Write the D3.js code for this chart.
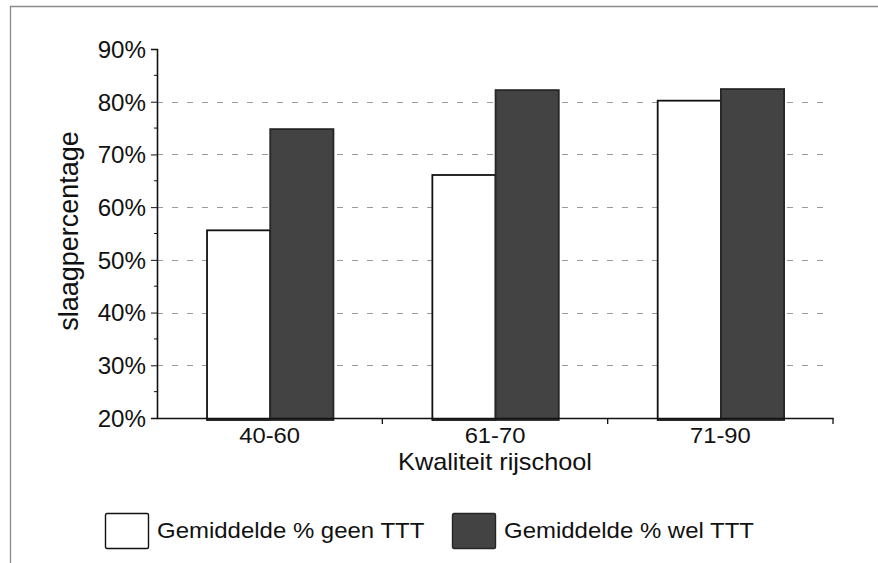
<!DOCTYPE html>
<html>
<head>
<meta charset="utf-8">
<script src="https://cdn.jsdelivr.net/npm/d3@7"></script>
<style>
  html, body { margin: 0; padding: 0; background: #fff; }
  svg { display: block; }
  text { font-family: "Liberation Sans", Arial, sans-serif; fill: #111; }
</style>
</head>
<body>
<svg id="chart" width="878" height="563"></svg>
<script>
// Slaagpercentage per kwaliteitsklasse van de rijschool
const categories = ["40-60", "61-70", "71-90"];
const seriesNames = ["Gemiddelde % geen TTT", "Gemiddelde % wel TTT"];
const geenTTT = [55.6, 66.1, 80.2];
const welTTT = [74.8, 82.2, 82.4];
const yTicks = [20, 30, 40, 50, 60, 70, 80, 90];
const yMinorTicks = [25, 35, 45, 55, 65, 75, 85];
const gridValues = [30, 40, 50, 60, 70, 80];
const yTitle = "slaagpercentage";
const xTitle = "Kwaliteit rijschool";

const seriesValues = [geenTTT, welTTT];
const seriesFill = ["#ffffff", "#434343"];
const seriesStroke = ["#111", "#262626"];

const svg = d3.select("#chart");

// outer frame (top and left edges visible)
svg.append("path")
  .attr("d", "M10.5,563 L10.5,6.5 L878,6.5")
  .attr("fill", "none")
  .attr("stroke", "#8a8a8a")
  .attr("stroke-width", 1.3);

const plot = { left: 157, right: 833, top: 49, bottom: 418 };

const y = d3.scaleLinear().domain([20, 90]).range([plot.bottom, plot.top]);
const x0 = d3.scaleBand().domain(categories).range([plot.left, plot.right]).padding(0);
const bw = x0.bandwidth();
const x1 = d3.scaleBand().domain(seriesNames).range([bw * 0.222, bw * 0.783]).padding(0);

// dashed gridlines
svg.append("g").selectAll("line").data(gridValues).join("line")
  .attr("x1", plot.left).attr("x2", plot.right - 5)
  .attr("y1", d => Math.round(y(d)) + 0.5).attr("y2", d => Math.round(y(d)) + 0.5)
  .attr("stroke", "#9a9a9a").attr("stroke-width", 1)
  .attr("stroke-dasharray", "6,9");

// bars
const groups = svg.append("g").selectAll("g").data(categories).join("g")
  .attr("transform", d => `translate(${x0(d)},0)`);

groups.selectAll("rect")
  .data((c, i) => seriesNames.map((s, k) => ({ s, k, v: seriesValues[k][i] })))
  .join("rect")
  .attr("x", d => x1(d.s))
  .attr("y", d => y(d.v))
  .attr("width", x1.bandwidth())
  .attr("height", d => plot.bottom + 2 - y(d.v))
  .attr("fill", d => seriesFill[d.k])
  .attr("stroke", d => seriesStroke[d.k])
  .attr("stroke-width", 1.8);

// y axis
const yAxis = d3.axisLeft(y).tickValues(yTicks).tickFormat(d => d + "%").tickSize(6).tickPadding(5);
const gy = svg.append("g").attr("transform", `translate(${plot.left},0)`).call(yAxis);
gy.select(".domain").attr("stroke", "#111").attr("stroke-width", 1.6);
gy.selectAll(".tick line").attr("stroke", "#111").attr("stroke-width", 1);
gy.selectAll(".tick text")
  .attr("font-size", 23)
  .attr("fill", "#111")
  .attr("dy", "0.36em")
  .attr("transform", "scale(1.05,1)")
  .attr("x", -11 / 1.05);

// minor ticks
svg.append("g").selectAll("line").data(yMinorTicks).join("line")
  .attr("x1", plot.left - 3).attr("x2", plot.left)
  .attr("y1", d => y(d)).attr("y2", d => y(d))
  .attr("stroke", "#111").attr("stroke-width", 1);

// x axis
const xAxis = d3.axisBottom(x0).tickSize(0).tickPadding(9);
const gx = svg.append("g").attr("transform", `translate(0,${plot.bottom})`).call(xAxis);
gx.select(".domain").attr("stroke", "#111").attr("stroke-width", 1.6);
gx.selectAll(".tick text")
  .attr("font-size", 22)
  .attr("fill", "#111")
  .attr("dy", "0.71em")
  .attr("transform", "scale(1.08,1)")
  .attr("x", 0);

// category boundary ticks
const boundaries = categories.map(c => x0(c) + bw);
svg.append("g").selectAll("line").data(boundaries).join("line")
  .attr("x1", d => d).attr("x2", d => d)
  .attr("y1", plot.bottom).attr("y2", plot.bottom + 6)
  .attr("stroke", "#111").attr("stroke-width", 1.3);

// axis titles
svg.append("text")
  .attr("transform", `translate(${(plot.left + plot.right) / 2},470) scale(1.1,1)`)
  .attr("text-anchor", "middle")
  .attr("font-size", 23)
  .text(xTitle);

svg.append("text")
  .attr("transform", "translate(78,231) rotate(-90)")
  .attr("text-anchor", "middle")
  .attr("font-size", 27)
  .text(yTitle);

// legend
const legendX = [105, 452];
const legend = svg.append("g").selectAll("g").data(seriesNames).join("g")
  .attr("transform", (d, i) => `translate(${legendX[i]},513)`);
legend.append("rect")
  .attr("x", 0.5).attr("y", 0.5)
  .attr("width", 43).attr("height", 35)
  .attr("rx", 1.5)
  .attr("fill", (d, i) => seriesFill[i])
  .attr("stroke", (d, i) => seriesStroke[i])
  .attr("stroke-width", 1.4);
legend.append("text")
  .attr("transform", "translate(52,17) scale(1.09,1)")
  .attr("font-size", 22)
  .attr("dy", "0.36em")
  .text(d => d);
</script>
</body>
</html>
